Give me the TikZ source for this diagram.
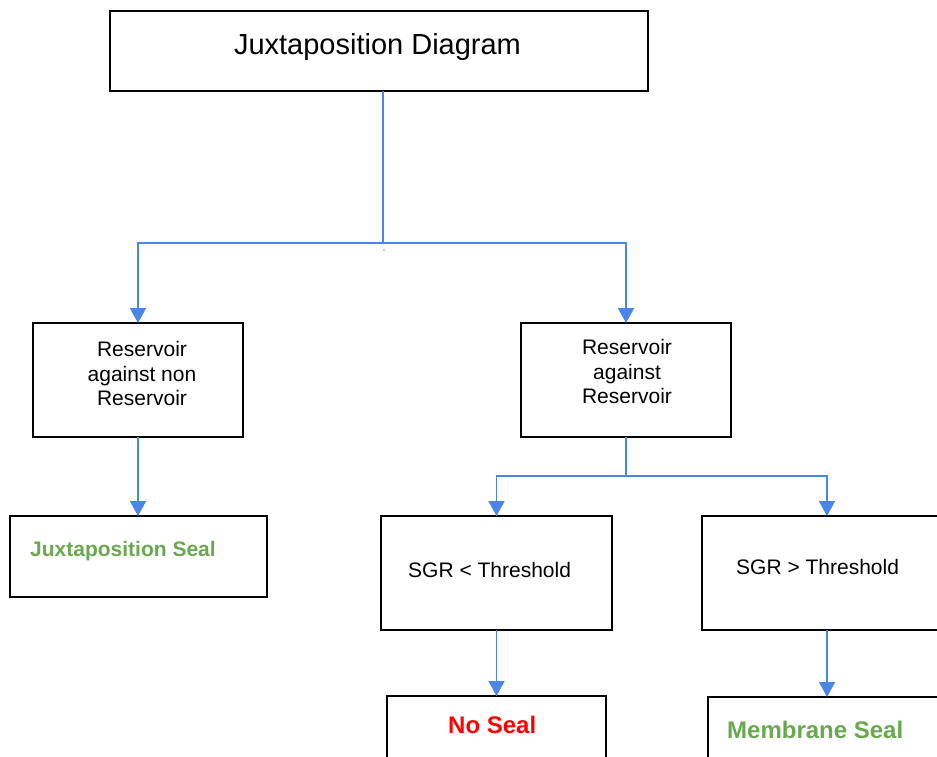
\documentclass[tikz,border=0pt]{standalone}
\usepackage{fontspec}
\setmainfont{Liberation Sans}
\usetikzlibrary{arrows.meta}
\definecolor{linkblue}{HTML}{4A86E8}
\definecolor{sealgreen}{HTML}{6AA84F}
\definecolor{nosealred}{HTML}{FF0000}
\begin{document}
\begin{tikzpicture}[x=1pt,y=-1pt,
  box/.style n args={2}{draw=black, line width=1.6pt, rectangle, anchor=north west,
    inner sep=0pt, outer sep=0pt, minimum width=#1pt, minimum height=#2pt},
  conn/.style={draw=linkblue, line width=1.7pt},
  arr/.style={conn, -{Triangle[width=16pt,length=15pt]}},
  plain/.style={font=\fontsize{21}{24.5}\selectfont, inner sep=0pt},
  verdict/.style={font=\fontsize{24}{28}\selectfont\bfseries, inner sep=0pt, anchor=base west}]
\useasboundingbox (0,0) rectangle (937,756);
\clip (0,0) rectangle (937,756);

% boxes
\node[box={538}{80}]  (title)    at (110,11)  {};
\node[box={210}{114}] (rnr)      at (33,323)  {};
\node[box={210}{114}] (rr)       at (521,323) {};
\node[box={257}{81}]  (jseal)    at (10,516)  {};
\node[box={231}{114}] (sgrlt)    at (381,516) {};
\node[box={250}{114}] (sgrgt)    at (702,516) {};
\node[box={219}{80}]  (noseal)   at (387,696) {};
\node[box={238}{80}]  (membrane) at (708,697) {};

% labels
\node[font=\fontsize{29}{34}\selectfont, inner sep=0pt, anchor=base] (titletext) at (377.5,54.5) {Juxtaposition Diagram};
\node[plain, align=center] (rnrtext) at (142,373.5) {Reservoir\\against non\\Reservoir};
\node[plain, align=center] (rrtext) at (627,371.5) {Reservoir\\against\\Reservoir};
\node[plain, anchor=base west, font=\fontsize{21}{24.5}\selectfont\bfseries, text=sealgreen] (jsealtext) at (30,556.6) {Juxtaposition Seal};
\node[plain, anchor=base west] (sgrlttext) at (408,577.5) {SGR < Threshold};
\node[plain, anchor=base west] (sgrgttext) at (736,574.5) {SGR > Threshold};
\node[verdict, text=nosealred] (nosealtext) at (448,733.5) {No Seal};
\node[verdict, text=sealgreen] (membranetext) at (727,738.5) {Membrane Seal};

% connectors
\coordinate (split1) at (383,243);
\coordinate (split2) at (626,476);
\draw[conn] (split1 |- title.south) -- (split1);
\draw[arr] (split1) -| (rnr.north);
\draw[arr] (split1) -| (rr.north);
\draw[arr] (rnr.south) -- (rnr.south |- jseal.north);
\draw[conn] (rr.south) -- (split2);
\draw[arr] (split2) -| (sgrlt.north);
\draw[arr] (split2) -| (sgrgt.north);
\draw[arr] (sgrlt.south) -- (noseal.north);
\draw[arr] (sgrgt.south) -- (membrane.north);

% stray mark below the first split
\fill (384,250) circle (0.7);
\end{tikzpicture}
\end{document}
